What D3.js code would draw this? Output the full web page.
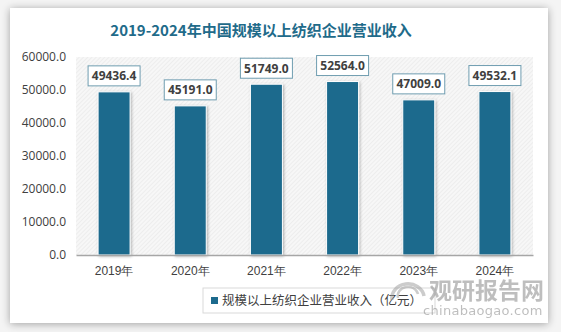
<!DOCTYPE html>
<html><head><meta charset="utf-8">
<script src="https://cdn.jsdelivr.net/npm/d3@7/dist/d3.min.js"></script>
<style>
body{margin:0;background:#fff;font-family:"Noto Sans CJK SC","Open Sans",sans-serif;}
</style></head>
<body>
<svg id="c" width="561" height="332"></svg>
<script>
const years = ["2019年","2020年","2021年","2022年","2023年","2024年"];
const revenue = [49436.4, 45191.0, 51749.0, 52564.0, 47009.0, 49532.1];
const yTicks = [0, 10000, 20000, 30000, 40000, 50000, 60000];
const titleText = "2019-2024年中国规模以上纺织企业营业收入";
const seriesName = "规模以上纺织企业营业收入（亿元）";

const svg = d3.select("#c");
const defs = svg.append("defs");

// soft card shadow
const f = defs.append("filter").attr("id","sh").attr("x","-10%").attr("y","-10%").attr("width","120%").attr("height","120%");
f.append("feGaussianBlur").attr("in","SourceAlpha").attr("stdDeviation",4);
f.append("feOffset").attr("dx",0).attr("dy",1).attr("result","b");
f.append("feComponentTransfer").append("feFuncA").attr("type","linear").attr("slope",0.35);
const fm = f.append("feMerge"); fm.append("feMergeNode"); fm.append("feMergeNode").attr("in","SourceGraphic");

// bar shadow
const fb = defs.append("filter").attr("id","bs").attr("x","-30%").attr("y","-10%").attr("width","160%").attr("height","120%");
fb.append("feGaussianBlur").attr("in","SourceAlpha").attr("stdDeviation",1.5);
fb.append("feOffset").attr("dx",1).attr("dy",1);
fb.append("feComponentTransfer").append("feFuncA").attr("type","linear").attr("slope",0.3);
const fbm = fb.append("feMerge"); fbm.append("feMergeNode"); fbm.append("feMergeNode").attr("in","SourceGraphic");

// hatch for plot background
const pat = defs.append("pattern").attr("id","hatch").attr("width",3).attr("height",3)
  .attr("patternUnits","userSpaceOnUse").attr("patternTransform","rotate(45)");
pat.append("rect").attr("width",3).attr("height",3).attr("fill","#f7f7f7");
pat.append("line").attr("x1",0).attr("y1",0).attr("x2",0).attr("y2",3).attr("stroke","#e4e4e4").attr("stroke-width",1);

svg.append("rect").attr("width",561).attr("height",332).attr("fill","#f4f4f4");
svg.append("rect").attr("x",10).attr("y",8).attr("width",538).attr("height",315)
  .attr("fill","#fff").attr("filter","url(#sh)");

svg.append("text").attr("x",261).attr("y",36).attr("text-anchor","middle")
  .attr("font-size",15).attr("font-weight","bold").attr("fill","#1f6b8a")
  .text(titleText);

const m = {l:76, r:533, t:57, b:255};
const x = d3.scaleBand().domain(years).range([m.l, m.r]).paddingInner(0.58).paddingOuter(0.29);
const y = d3.scaleLinear().domain([0, 60000]).range([m.b, m.t]);

svg.append("rect").attr("x",m.l).attr("y",m.t).attr("width",m.r-m.l).attr("height",m.b-m.t).attr("fill","url(#hatch)");

const ya = svg.append("g").attr("transform",`translate(${m.l},0)`)
  .call(d3.axisLeft(y).tickValues(yTicks).tickFormat(d3.format(".1f")).tickSize(0).tickPadding(10));
ya.select(".domain").remove();
ya.selectAll("text").attr("font-size",12).attr("fill","#404040").attr("font-family","'Open Sans',sans-serif");

svg.selectAll(".bar").data(revenue).join("rect").attr("class","bar")
  .attr("x",(d,i)=>x(years[i])).attr("width",x.bandwidth())
  .attr("y",d=>y(d)).attr("height",d=>y(0)-y(d))
  .attr("fill","#1c6a8d").attr("stroke","#fff").attr("stroke-width",1).attr("filter","url(#bs)");

const xa = svg.append("g").attr("transform",`translate(0,${m.b})`)
  .call(d3.axisBottom(x).tickSize(0).tickPadding(11));
xa.select(".domain").attr("stroke","#a6a6a6").attr("stroke-width",1.5);
xa.selectAll("text").attr("font-size",12).attr("fill","#404040");

// value callouts
const lab = svg.selectAll(".lab").data(revenue).join("g").attr("class","lab")
  .attr("transform",(d,i)=>`translate(${x(years[i])+x.bandwidth()/2},${y(d)-16})`);
lab.append("rect").attr("x",-26).attr("y",-10).attr("width",52).attr("height",20)
  .attr("fill","#fff").attr("stroke","#6f9db0").attr("stroke-width",1);
lab.append("text").attr("text-anchor","middle").attr("dy","0.36em")
  .attr("font-size",12).attr("font-weight","bold").attr("fill","#404040").attr("font-family","'Open Sans',sans-serif")
  .text(d=>d3.format(".1f")(d));

// legend
const lg = svg.append("g").attr("transform","translate(203,288)");
lg.append("rect").attr("width",232).attr("height",25).attr("fill","#fff").attr("stroke","#d9d9d9");
lg.append("rect").attr("x",8).attr("y",9).attr("width",7).attr("height",7).attr("fill","#1c6a8d");
lg.append("text").attr("x",19).attr("y",17).attr("font-size",12.5).attr("fill","#404040").text(seriesName);

// site mark
const wm = svg.append("g").attr("opacity",0.5);
wm.append("path").attr("d","M392,300 A16,14 0 1 1 424,296").attr("fill","none").attr("stroke","#9a9a9a").attr("stroke-width",3.5);
wm.append("path").attr("d","M398,298 A10,9 0 1 1 418,294").attr("fill","none").attr("stroke","#9a9a9a").attr("stroke-width",2.5);
wm.append("text").attr("x",429).attr("y",299).attr("font-size",23).attr("font-weight","bold").attr("fill","#7f7f7f").text("观研报告网");
wm.append("text").attr("x",423).attr("y",315).attr("font-size",13).attr("fill","#7f7f7f").attr("letter-spacing",0.3).attr("font-family","'DejaVu Sans',sans-serif").text("chinabaogao.com");
</script>
</body></html>
